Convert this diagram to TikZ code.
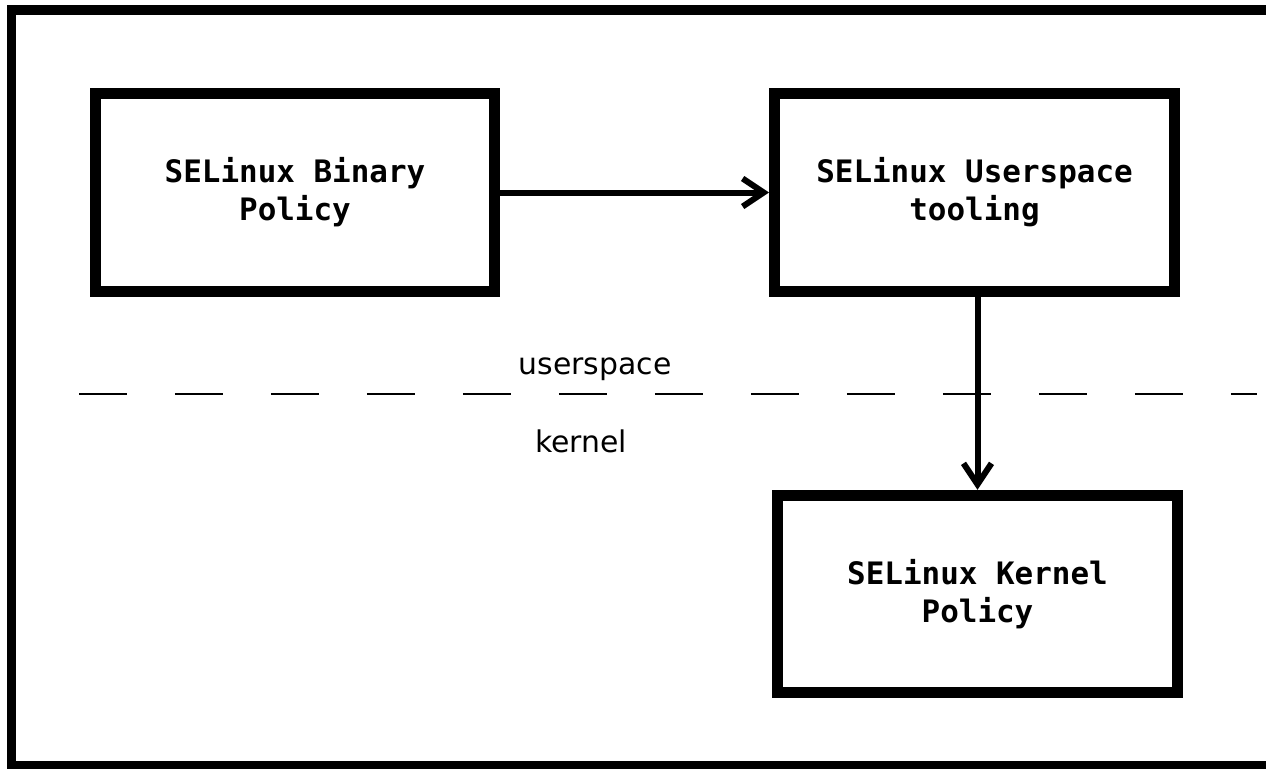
\documentclass[tikz,border=0pt]{standalone}
\usepackage{fontspec}
\setmainfont{DejaVu Sans}
\setmonofont{DejaVu Sans Mono}
\usepackage{tikz}
\usetikzlibrary{arrows.meta,positioning}

\begin{document}
\begin{tikzpicture}[
    x=0.02cm, y=-0.02cm,
    box/.style={rectangle, draw, line width=0.22cm, minimum width=8cm, minimum height=3.95cm, align=center, font=\fontsize{17.6}{21.5}\selectfont\ttfamily\bfseries},
    arrow/.style={-{Straight Barb[length=0.42cm, width=0.56cm]}, line width=0.12cm},
    layer/.style={font=\fontsize{17}{20}\selectfont}
]
\useasboundingbox (0,0) rectangle (1266,768);

% Outer frame
\draw[line width=0.2cm] (11.5,10) rectangle (1290,766);

% Userspace side
\node[box] (binary) at (295,192.5) {SELinux Binary\\Policy};
\node[box] (tooling) at (974.5,192.5) {SELinux Userspace\\tooling};

% Kernel side
\node[box] (kernel) at (977.5,594) {SELinux Kernel\\Policy};

% Boundary
\coordinate (left-end) at (79,394);
\coordinate (right-end) at (1257,394);
\draw[line width=0.05cm, dash pattern=on 0.96cm off 0.96cm] (left-end) -- (right-end);
\node[layer, anchor=base] (user-label) at (595,374) {userspace};
\node[layer, anchor=base] (kernel-label) at (581,452) {kernel};

% Arrows
\draw[arrow] (binary) -- (tooling);
\draw[arrow] (kernel.north |- tooling.south) -- (kernel.north);

\end{tikzpicture}
\end{document}
